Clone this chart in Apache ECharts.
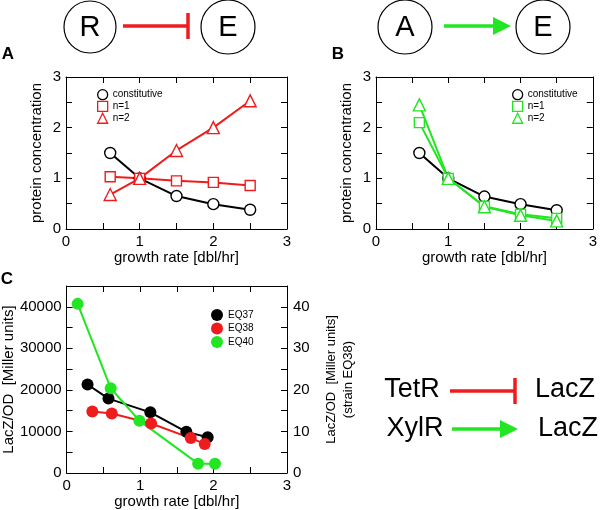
<!DOCTYPE html>
<html>
<head>
<meta charset="utf-8">
<script src="https://cdn.jsdelivr.net/npm/echarts@6/dist/echarts.min.js"></script>
<style>
  html, body { margin: 0; padding: 0; background: #fff; }
  #chart { width: 600px; height: 510px; }
</style>
</head>
<body>
<div id="chart"></div>
<script>
// model panels A and B
const modelGrowth = [0.6, 1.0, 1.5, 2.0, 2.5]
const constitutiveA = [1.5, 1.0, 0.65, 0.49, 0.38]
const repressedN1 = [1.03, 1.0, 0.95, 0.92, 0.86]
const repressedN2 = [0.68, 1.0, 1.55, 2.0, 2.53]
const constitutiveB = [1.5, 1.0, 0.64, 0.49, 0.37]
const activatedN1 = [2.1, 1.0, 0.45, 0.29, 0.21]
const activatedN2 = [2.45, 1.0, 0.44, 0.27, 0.16]

// measurements, panel C
const eq37Growth = [0.285, 0.57, 1.14, 1.63, 1.92]
const eq37Lacz = [21300, 17900, 14600, 9900, 8600]
const eq38Growth = [0.35, 0.615, 1.15, 1.69, 1.88]
const eq38Lacz = [14.8, 14.3, 11.9, 8.4, 7.0] // right axis
const eq40Growth = [0.15, 0.6, 0.99, 1.79, 2.02]
const eq40Lacz = [40700, 20400, 12600, 2250, 2250]

// tick labels
const growthTicks = [0, 1, 2, 3]
const concTicks = [0, 1, 2, 3]
const laczTicks = [0, 10000, 20000, 30000, 40000]
const laczRightTicks = [0, 10, 20, 30, 40]

const FONT = "'Liberation Sans', Arial, Helvetica, sans-serif"
const RED = '#ee1c1c'
const GREEN = '#22e622'

const pairs = (xs, ys) => xs.map((x, i) => [x, ys[i]])
const onlyTicks = (list) => (v) => (list.some((t) => Math.abs(t - v) < 1e-9) ? String(v) : '')

const axis = (extra) =>
  Object.assign(
    {
      type: 'value',
      axisLine: { show: true, onZero: false, lineStyle: { color: '#000', width: 1 } },
      axisTick: { show: true, inside: true, length: 6, lineStyle: { color: '#000', width: 1 } },
      splitLine: { show: false },
      axisLabel: { show: false },
      nameTextStyle: { color: '#000', fontSize: 15, fontFamily: FONT }
    },
    extra
  )

const tickLabel = (list, margin) => ({
  show: true,
  color: '#000',
  fontSize: 15,
  fontFamily: FONT,
  margin,
  formatter: onlyTicks(list)
})

const growthAxis = (gridIndex, withName) =>
  axis({
    gridIndex,
    position: 'bottom',
    min: 0,
    max: 3,
    interval: 0.5,
    axisLabel: tickLabel(growthTicks, 5),
    name: withName ? 'growth rate [dbl/hr]' : '',
    nameLocation: 'middle',
    nameGap: 21
  })
const topAxis = (gridIndex) => axis({ gridIndex, position: 'top', min: 0, max: 3, interval: 0.5 })

const concAxis = (gridIndex) =>
  axis({
    gridIndex,
    position: 'left',
    min: 0,
    max: 3,
    interval: 0.5,
    axisLabel: tickLabel(concTicks, 5),
    name: 'protein concentration',
    nameLocation: 'middle',
    nameRotate: 90,
    nameGap: 22
  })
const rightAxis = (gridIndex) => axis({ gridIndex, position: 'right', min: 0, max: 3, interval: 0.5 })

const modelSeries = (name, xi, yi, ys, color, symbol, size) => ({
  name,
  type: 'line',
  xAxisIndex: xi,
  yAxisIndex: yi,
  data: pairs(modelGrowth, ys),
  symbol,
  symbolSize: size,
  showAllSymbol: true,
  lineStyle: { color, width: 2 },
  itemStyle: { color: '#fff', borderColor: color, borderWidth: 1.4 },
  emphasis: { disabled: true },
  animation: false
})

const laczSeries = (name, xi, yi, xs, ys, color) => ({
  name,
  type: 'line',
  xAxisIndex: xi,
  yAxisIndex: yi,
  data: pairs(xs, ys),
  symbol: 'circle',
  symbolSize: 12,
  lineStyle: { color, width: 2 },
  itemStyle: { color, borderColor: color, borderWidth: 0 },
  emphasis: { disabled: true },
  animation: false
})

const hollow = (name, icon, color) => ({
  name,
  icon,
  itemStyle: { color: '#fff', borderColor: color, borderWidth: 1.3 }
})
const filled = (name, color) => ({ name, icon: 'circle', itemStyle: { color, borderWidth: 0 } })

const legendBase = {
  orient: 'vertical',
  padding: 0,
  itemWidth: 10,
  itemHeight: 10,
  itemGap: 0.5,
  selectedMode: false,
  textStyle: { color: '#000', fontSize: 10, fontFamily: FONT }
}

// schematic pictures above the panels and beside C
const ring = (cx, cy, r, label) => [
  { type: 'circle', shape: { cx, cy, r }, style: { fill: '#fff', stroke: '#000', lineWidth: 1.2 } },
  { type: 'text', x: cx, y: cy + 1, style: { text: label, fontSize: 29, fontFamily: FONT, fill: '#000', align: 'center', verticalAlign: 'middle' } }
]
const word = (text, x, y, size, weight) => ({
  type: 'text',
  x,
  y,
  style: { text, fontSize: size, fontWeight: weight || 'normal', fontFamily: FONT, fill: '#000', align: 'center', verticalAlign: 'middle' }
})
const bar = (x1, y1, x2, y2, color) => ({
  type: 'line',
  shape: { x1, y1, x2, y2 },
  style: { stroke: color, lineWidth: 3.5 }
})
const head = (x, y, color) => ({
  type: 'polygon',
  shape: { points: [[x - 18, y - 9], [x, y], [x - 18, y + 9]] },
  style: { fill: color }
})

const graphics = [
  ...ring(90, 27, 26, 'R'),
  ...ring(228, 27, 27, 'E'),
  bar(123, 26, 188, 26, RED),
  bar(188, 13, 188, 39, RED),
  ...ring(405, 27, 27, 'A'),
  ...ring(543, 27, 27, 'E'),
  bar(444, 26, 495, 26, GREEN),
  head(511, 26, GREEN),
  word('A', 8, 54, 17, 'bold'),
  word('B', 338, 54, 17, 'bold'),
  word('C', 7, 279, 17, 'bold'),
  word('TetR', 412, 390, 27),
  bar(450, 391, 515, 391, RED),
  bar(515, 378, 515, 404, RED),
  word('LacZ', 565, 390, 27),
  word('XylR', 415, 429, 27),
  bar(452, 429, 503, 429, GREEN),
  head(518, 429, GREEN),
  word('LacZ', 568, 429, 27)
]

const chart = echarts.init(document.getElementById('chart'), null, { renderer: 'canvas' })

chart.setOption({
  backgroundColor: '#fff',
  animation: false,
  grid: [
    { left: 66, top: 77, width: 221, height: 152 },
    { left: 376, top: 77, width: 220, height: 152 },
    { left: 66, top: 286, width: 221, height: 187 }
  ],
  xAxis: [growthAxis(0, true), topAxis(0), growthAxis(1, true), topAxis(1), growthAxis(2, true), topAxis(2)],
  yAxis: [
    concAxis(0),
    rightAxis(0),
    concAxis(1),
    rightAxis(1),
    axis({
      gridIndex: 2,
      position: 'left',
      min: 0,
      max: 45000,
      interval: 5000,
      axisLabel: tickLabel(laczTicks, 5),
      name: 'LacZ/OD  [Miller units]',
      nameLocation: 'middle',
      nameRotate: 90,
      nameGap: 50
    }),
    axis({
      gridIndex: 2,
      position: 'right',
      min: 0,
      max: 45,
      interval: 5,
      axisLabel: tickLabel(laczRightTicks, 6),
      name: 'LacZ/OD  [Miller units]\n(strain EQ38)',
      nameLocation: 'middle',
      nameRotate: 90,
      nameGap: 36,
      nameTextStyle: { color: '#000', fontSize: 13, fontFamily: FONT, lineHeight: 17 }
    })
  ],
  legend: [
    Object.assign({}, legendBase, {
      left: 97,
      top: 89,
      data: [hollow('constitutive', 'circle', '#000'), hollow('n=1', 'rect', RED), hollow('n=2', 'triangle', RED)]
    }),
    Object.assign({}, legendBase, {
      left: 512,
      top: 89,
      data: [hollow('constitutive', 'circle', '#000'), hollow('n=1', 'rect', GREEN), hollow('n=2', 'triangle', GREEN)]
    }),
    Object.assign({}, legendBase, {
      left: 211,
      top: 309,
      itemWidth: 12,
      itemHeight: 12,
      itemGap: 1.5,
      data: [filled('EQ37', '#000'), filled('EQ38', RED), filled('EQ40', GREEN)]
    })
  ],
  graphic: graphics,
  series: [
    modelSeries('constitutive', 0, 0, constitutiveA, '#000', 'circle', 11),
    modelSeries('n=1', 0, 0, repressedN1, RED, 'rect', 10),
    modelSeries('n=2', 0, 0, repressedN2, RED, 'triangle', 12),
    modelSeries('constitutive', 2, 2, constitutiveB, '#000', 'circle', 11),
    modelSeries('n=1', 2, 2, activatedN1, GREEN, 'rect', 10),
    modelSeries('n=2', 2, 2, activatedN2, GREEN, 'triangle', 12),
    laczSeries('EQ37', 4, 4, eq37Growth, eq37Lacz, '#000'),
    laczSeries('EQ38', 4, 5, eq38Growth, eq38Lacz, RED),
    laczSeries('EQ40', 4, 4, eq40Growth, eq40Lacz, GREEN)
  ]
})
</script>
</body>
</html>
